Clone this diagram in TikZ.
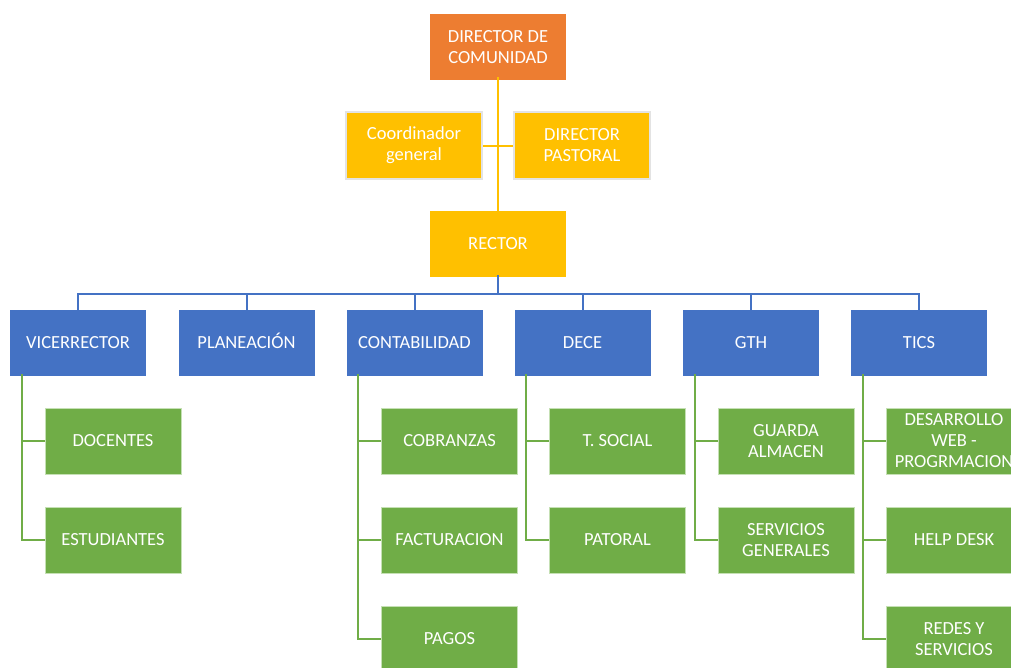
\documentclass[tikz,border=0pt]{standalone}
\usepackage{fontspec}
\setmainfont{Carlito}
\definecolor{orgC}{HTML}{ED7D31}
\definecolor{yelC}{HTML}{FFC000}
\definecolor{bluC}{HTML}{4472C4}
\definecolor{grnC}{HTML}{70AD47}
\definecolor{grnE}{HTML}{C5E0B4}
\definecolor{gryE}{HTML}{E3E3E3}
\begin{document}
\begin{tikzpicture}[x=1pt,y=-1pt,
  box/.style={minimum width=136pt,minimum height=66pt,inner sep=1pt,align=center,
    text=white,font=\fontsize{18.5}{21}\selectfont},
  topbox/.style={box,fill=orgC,draw=none},
  ybox/.style={box,fill=yelC,draw=gryE,line width=2pt,minimum width=136pt,minimum height=67pt},
  rbox/.style={box,fill=yelC,draw=none},
  bbox/.style={box,fill=bluC,draw=none},
  gbox/.style={box,fill=grnC,draw=grnE,line width=0.8pt},
  yline/.style={draw=yelC,line width=2pt},
  bline/.style={draw=bluC,line width=2pt},
  gline/.style={draw=grnC,line width=2pt}]
\useasboundingbox (0,0) rectangle (1011,667);
% top
\node[topbox] (dir) at (498,47) {DIRECTOR DE\\COMUNIDAD};
\node[ybox] (coo) at (414,145.5) {Coordinador\\general};
\node[ybox] (pas) at (582,145.5) {DIRECTOR\\PASTORAL};
\node[rbox] (rec) at (498,244) {RECTOR};
\draw[yline] ([yshift=3pt]dir.south) -- ([yshift=-3pt]rec.north);
\draw[yline] (coo.east) -- (pas.west);
% blue row
\node[bbox] (vic) at (78,343) {VICERRECTOR};
\node[bbox] (pla) at (246.5,343) {PLANEACI\smash{Ó}N};
\node[bbox] (con) at (414.5,343) {CONTABILIDAD};
\node[bbox] (dec) at (582.5,343) {DECE};
\node[bbox] (gth) at (751,343) {GTH};
\node[bbox] (tic) at (919,343) {TICS};
\coordinate (bus) at (498,294);
\foreach \n in {vic,pla,con,dec,gth,tic}{
  \draw[bline] ([yshift=2pt]rec.south) |- (bus) -| (\n.north);
}
% green
\node[gbox] (doc) at (113,441) {DOCENTES};
\node[gbox] (est) at (113,540) {ESTUDIANTES};
\node[gbox] (cob) at (449.5,441) {COBRANZAS};
\node[gbox] (fac) at (449.5,540) {FACTURACION};
\node[gbox] (pag) at (449.5,639) {PAGOS};
\node[gbox] (tso) at (617.5,441) {T. SOCIAL};
\node[gbox] (pat) at (617.5,540) {PATORAL};
\node[gbox] (gua) at (786,441) {GUARDA\\ALMACEN};
\node[gbox] (ser) at (786,540) {SERVICIOS\\GENERALES};
\node[gbox] (des) at (954,441) {DESARROLLO\\WEB -\\PROGRMACION};
\node[gbox] (hel) at (954,540) {HELP DESK};
\node[gbox] (red) at (954,639) {REDES Y\\SERVICIOS};
\foreach \p/\c in {vic/doc,vic/est,con/cob,con/fac,con/pag,dec/tso,dec/pat,gth/gua,gth/ser,tic/des,tic/hel,tic/red}{
  \draw[gline] ([xshift=12pt,yshift=2pt]\p.south west) |- (\c.west);
}
\end{tikzpicture}
\end{document}
